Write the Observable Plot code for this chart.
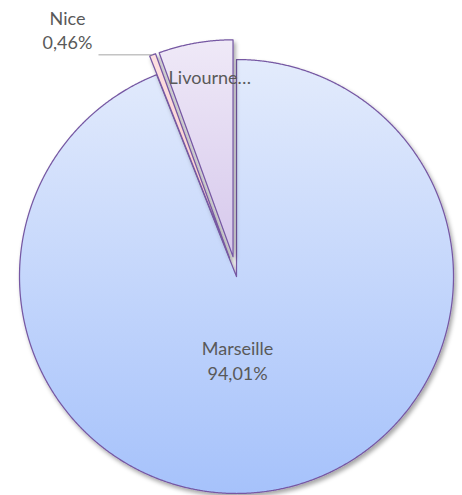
<!DOCTYPE html>
<html>
<head>
<meta charset="utf-8">
<script src="https://cdn.jsdelivr.net/npm/d3@7"></script>
<script src="https://cdn.jsdelivr.net/npm/@observablehq/plot@0.6"></script>
<style>
  html, body { margin: 0; padding: 0; background: #ffffff; }
  #chart svg { display: block; }
</style>
</head>
<body>
<div id="chart"></div>
<script>
// ---- data ----
const categories = ["Marseille", "Nice", "Livourne"];
const values = [94.01, 0.46, 5.53];
const valueLabels = ["94,01%", "0,46%", "5,53%"];
const shownLabels = ["Marseille\n94,01%", "Nice\n0,46%", "Livourne…"];

// ---- style / layout ----
const W = 462, H = 495;
const CX = 236, CY = 276, R = 217;           // pie centre and radius (px)
const explodePx = [0, 20, 20];
const gradients = [
  ["#e3ebfc", "#a6c2fb"],
  ["#fde0e0", "#f8c6c6"],
  ["#efe9f7", "#d6c8ec"]
];
const sliceStroke = "#7658a3";
const textColor = "#595959";
// label placement (data units: radius = 1, centre = 0,0)
const labelLayout = [
  {x: 0.005, y: -0.381, anchor: "middle", lh: 1.39},
  {x: -0.779, y: 1.137, anchor: "middle", lh: 1.333},
  {x: -0.313, y: 0.921, anchor: "start", lh: 1.2}
];
const leaderStartX = -0.636;

// ---- geometry from values ----
const total = d3.sum(values);
let acc = 0;
const slices = categories.map((name, i) => {
  const a0 = acc / total * 2 * Math.PI;
  acc += values[i];
  const a1 = acc / total * 2 * Math.PI;
  const mid = (a0 + a1) / 2;
  const e = explodePx[i] / R;
  return {name, i, a0, a1, mid, ox: e * Math.sin(mid), oy: e * Math.cos(mid)};
});
function slicePoints(s) {
  const pts = [{name: s.name, x: s.ox, y: s.oy}];
  const n = Math.max(4, Math.ceil((s.a1 - s.a0) / (Math.PI / 720)));
  for (let k = 0; k <= n; k++) {
    const a = s.a0 + (s.a1 - s.a0) * k / n;
    pts.push({name: s.name, x: s.ox + Math.sin(a), y: s.oy + Math.cos(a)});
  }
  pts.push({name: s.name, x: s.ox, y: s.oy});
  return pts;
}
const nice = slices[1];
const niceOuter = {x: nice.ox + Math.sin(nice.mid), y: nice.oy + Math.cos(nice.mid)};
const leader = [{x1: leaderStartX, y1: niceOuter.y, x2: niceOuter.x, y2: niceOuter.y}];

const labels = categories.map((c, i) => ({text: shownLabels[i], ...labelLayout[i]}));

// defs (gradients + shadow)
function defsMark() {
  const ns = "http://www.w3.org/2000/svg";
  const g = document.createElementNS(ns, "g");
  const defs = document.createElementNS(ns, "defs");
  gradients.forEach((cols, i) => {
    const lg = document.createElementNS(ns, "linearGradient");
    lg.setAttribute("id", "grad" + i);
    lg.setAttribute("x1", "0"); lg.setAttribute("y1", "0");
    lg.setAttribute("x2", "0"); lg.setAttribute("y2", "1");
    cols.forEach((c, k) => {
      const st = document.createElementNS(ns, "stop");
      st.setAttribute("offset", k === 0 ? "0" : "1");
      st.setAttribute("stop-color", c);
      lg.appendChild(st);
    });
    defs.appendChild(lg);
  });
  const f = document.createElementNS(ns, "filter");
  f.setAttribute("id", "shadow");
  f.setAttribute("x", "-10%"); f.setAttribute("y", "-10%");
  f.setAttribute("width", "130%"); f.setAttribute("height", "130%");
  const ds = document.createElementNS(ns, "feDropShadow");
  ds.setAttribute("dx", "2"); ds.setAttribute("dy", "3");
  ds.setAttribute("stdDeviation", "2");
  ds.setAttribute("flood-color", "#000");
  ds.setAttribute("flood-opacity", "0.35");
  f.appendChild(ds);
  defs.appendChild(f);
  g.appendChild(defs);
  return g;
}

const sliceMarks = slices.map(s =>
  Plot.line(slicePoints(s), {
    x: "x", y: "y",
    fill: `url(#grad${s.i})`,
    stroke: sliceStroke,
    strokeWidth: 1.25,
    strokeLinejoin: "round",
    curve: "linear"
  })
);

const chart = Plot.plot({
  width: W,
  height: H,
  margin: 0,
  x: {domain: [-CX / R, (W - CX) / R], range: [0, W], axis: null},
  y: {domain: [-(H - CY) / R, CY / R], range: [H, 0], axis: null},
  style: {background: "#ffffff", fontFamily: "Lato, 'Open Sans', sans-serif"},
  marks: [
    defsMark,
    ...sliceMarks,
    Plot.link(leader, {x1: "x1", y1: "y1", x2: "x2", y2: "y2", stroke: "#a6a6a6", strokeWidth: 1}),
    ...labels.map(l => Plot.text([l], {
      x: "x", y: "y", text: "text",
      textAnchor: l.anchor, lineAnchor: "middle", lineHeight: l.lh,
      fontSize: 18, fill: textColor
    }))
  ]
});

d3.select(chart).selectAll('g[aria-label="line"]').attr("filter", "url(#shadow)");
document.getElementById("chart").appendChild(chart);
</script>
</body>
</html>
